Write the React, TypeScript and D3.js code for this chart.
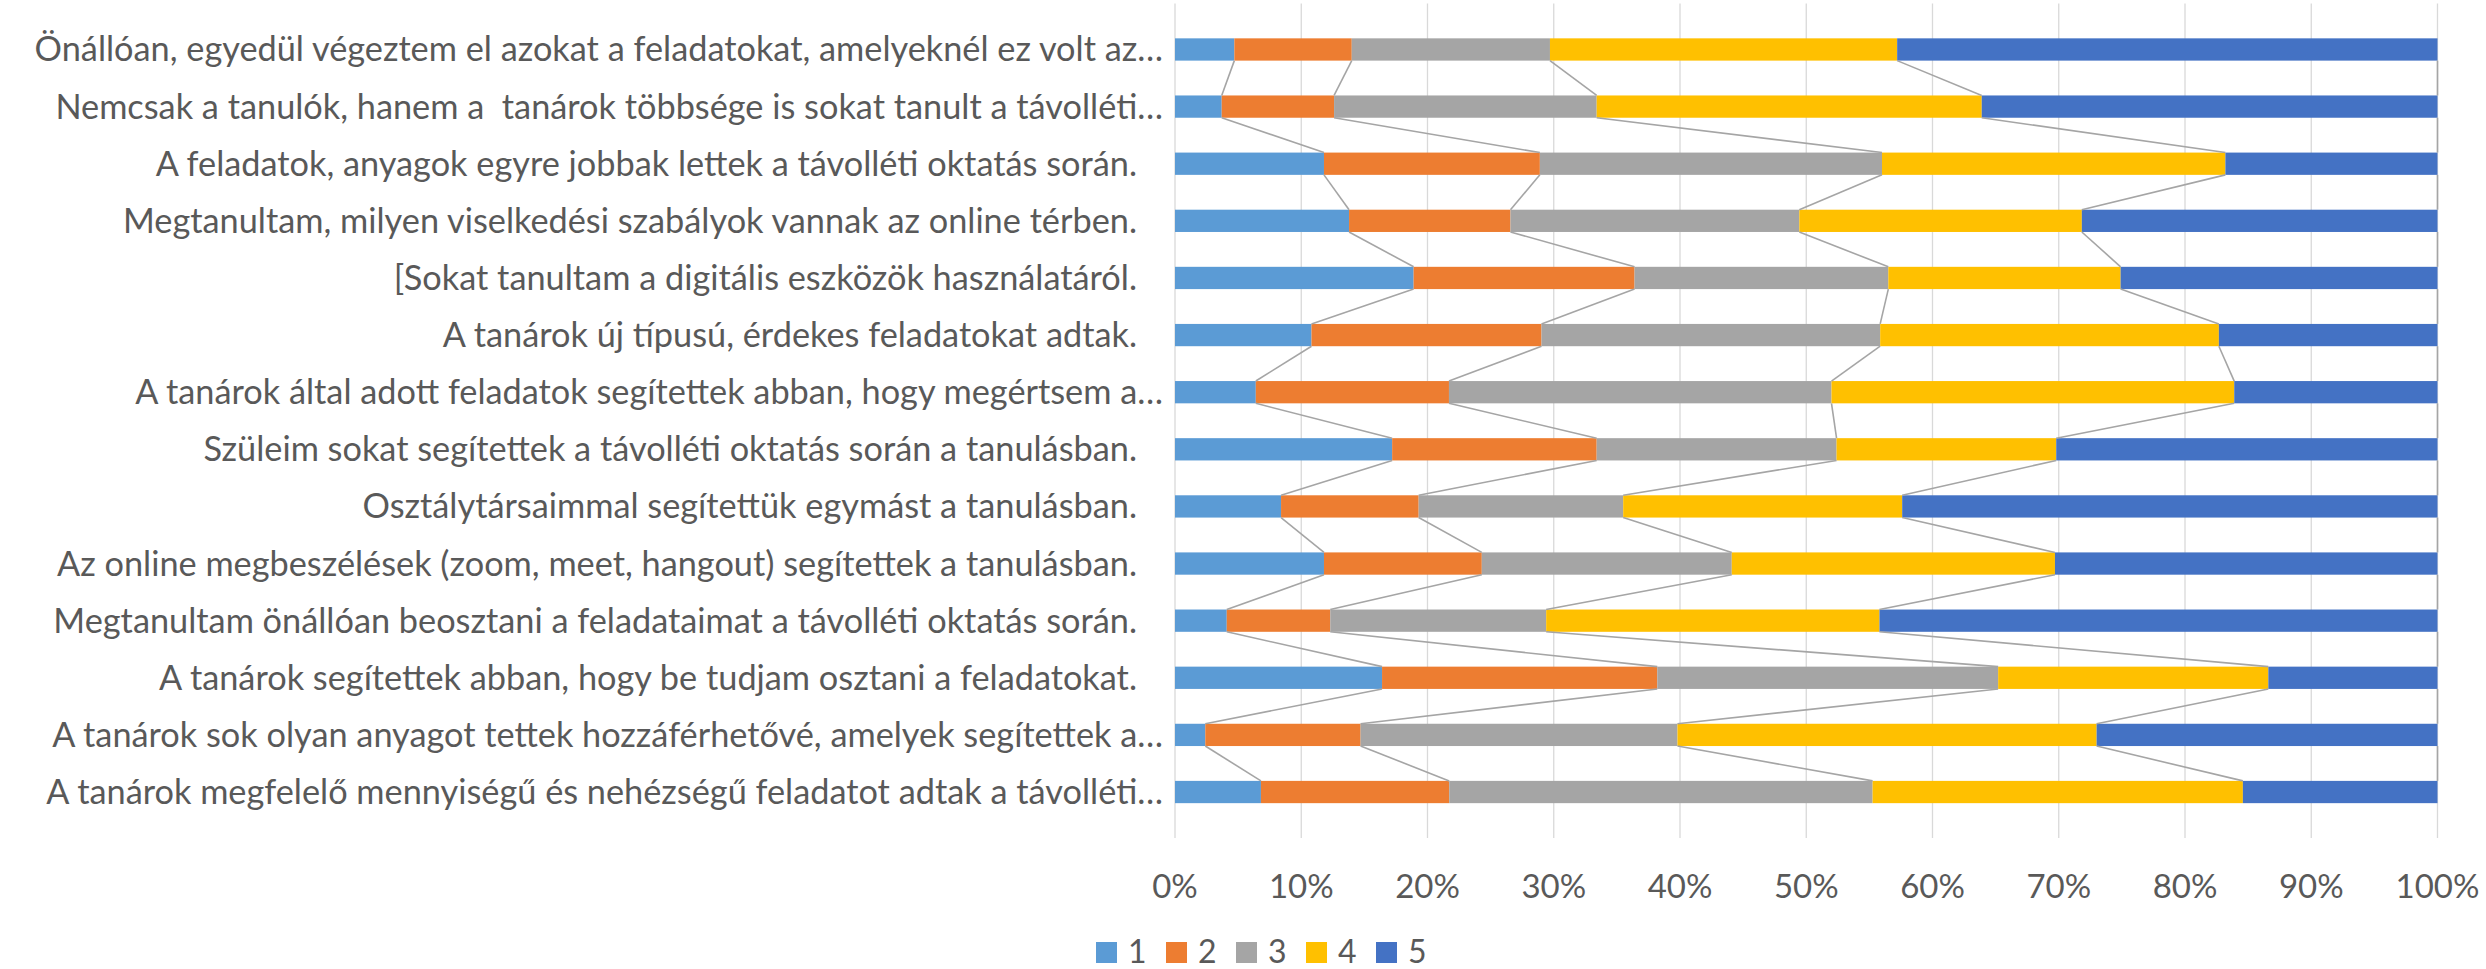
import React, { useEffect, useRef } from 'react';
import * as d3 from 'd3';

const categories = [
  'Önállóan, egyedül végeztem el azokat a feladatokat, amelyeknél ez volt az…',
  'Nemcsak a tanulók, hanem a  tanárok többsége is sokat tanult a távolléti…',
  'A feladatok, anyagok egyre jobbak lettek a távolléti oktatás során.',
  'Megtanultam, milyen viselkedési szabályok vannak az online térben.',
  '[Sokat tanultam a digitális eszközök használatáról.',
  'A tanárok új típusú, érdekes feladatokat adtak.',
  'A tanárok által adott feladatok segítettek abban, hogy megértsem a…',
  'Szüleim sokat segítettek a távolléti oktatás során a tanulásban.',
  'Osztálytársaimmal segítettük egymást a tanulásban.',
  'Az online megbeszélések (zoom, meet, hangout) segítettek a tanulásban.',
  'Megtanultam önállóan beosztani a feladataimat a távolléti oktatás során.',
  'A tanárok segítettek abban, hogy be tudjam osztani a feladatokat.',
  'A tanárok sok olyan anyagot tettek hozzáférhetővé, amelyek segítettek a…',
  'A tanárok megfelelő mennyiségű és nehézségű feladatot adtak a távolléti…',
];

const seriesNames = ['1', '2', '3', '4', '5'];
const s1 = [4.7, 3.7, 11.8, 13.8, 18.9, 10.8, 6.4, 17.2, 8.4, 11.8, 4.1, 16.4, 2.4, 6.8];
const s2 = [9.3, 8.9, 17.1, 12.8, 17.5, 18.2, 15.3, 16.2, 10.9, 12.5, 8.2, 21.8, 12.3, 14.9];
const s3 = [15.7, 20.8, 27.1, 22.9, 20.1, 26.8, 30.3, 19.0, 16.2, 19.8, 17.1, 27.0, 25.1, 33.5];
const s4 = [27.5, 30.5, 27.2, 22.4, 18.4, 26.8, 31.9, 17.4, 22.1, 25.6, 26.4, 21.4, 33.2, 29.3];
const s5 = [42.8, 36.1, 16.8, 28.2, 25.1, 17.3, 16.1, 30.2, 42.4, 30.3, 44.2, 13.4, 27.0, 15.4];
const colors = ['#5B9BD5', '#ED7D31', '#A5A5A5', '#FFC000', '#4472C4'];
const ticks = [0, 0.1, 0.2, 0.3, 0.4, 0.5, 0.6, 0.7, 0.8, 0.9, 1];

const W = 2486;
const H = 969;
const FONT = 'Lato, "Open Sans", sans-serif';

export default function App() {
  const ref = useRef<SVGSVGElement>(null);

  useEffect(() => {
    const svg = d3.select(ref.current);
    svg.selectAll('*').remove();

    const left = 1175, right = 2437.5, top = 3.5, bottom = 838;
    const x = d3.scaleLinear().domain([0, 1]).range([left, right]);
    const y = d3.scaleBand().domain(categories).range([top, bottom]).padding(0.61);

    const rows = categories.map((c, i) => ({
      cat: c, '1': s1[i], '2': s2[i], '3': s3[i], '4': s4[i], '5': s5[i],
    }));
    const stacked = d3.stack<any>().keys(seriesNames).offset(d3.stackOffsetExpand)(rows);

    // gridlines
    svg.append('g')
      .selectAll('line')
      .data(ticks)
      .enter()
      .append('line')
      .attr('x1', d => x(d))
      .attr('x2', d => x(d))
      .attr('y1', top)
      .attr('y2', bottom)
      .attr('stroke', '#D9D9D9')
      .attr('stroke-width', 1.3);

    // bars
    svg.append('g')
      .selectAll('g')
      .data(stacked)
      .enter()
      .append('g')
      .attr('fill', (d, i) => colors[i])
      .selectAll('rect')
      .data(d => d)
      .enter()
      .append('rect')
      .attr('x', d => x(d[0]))
      .attr('y', d => y(d.data.cat) as number)
      .attr('width', d => x(d[1]) - x(d[0]))
      .attr('height', y.bandwidth());

    // series lines
    const links: [number, number, number][] = [];
    stacked.forEach(layer => {
      for (let i = 0; i < categories.length - 1; i++) {
        links.push([i, layer[i][1], layer[i + 1][1]]);
      }
    });
    svg.append('g')
      .selectAll('line')
      .data(links)
      .enter()
      .append('line')
      .attr('x1', d => x(d[1]))
      .attr('x2', d => x(d[2]))
      .attr('y1', d => (y(categories[d[0]]) as number) + y.bandwidth())
      .attr('y2', d => y(categories[d[0] + 1]) as number)
      .attr('stroke', '#A5A5A5')
      .attr('stroke-width', 1.6);

    // category labels
    svg.append('g')
      .selectAll('text')
      .data(categories)
      .enter()
      .append('text')
      .attr('x', d => (d.endsWith('…') ? left - 12 : left - 38))
      .attr('y', d => (y(d) as number) + y.bandwidth() / 2)
      .attr('dy', '0.35em')
      .attr('text-anchor', 'end')
      .attr('font-family', FONT)
      .attr('font-size', 34.3)
      .attr('fill', '#595959')
      .style('white-space', 'pre')
      .text(d => d);

    // tick labels
    svg.append('g')
      .selectAll('text')
      .data(ticks)
      .enter()
      .append('text')
      .attr('x', d => x(d))
      .attr('y', 898)
      .attr('text-anchor', 'middle')
      .attr('font-family', FONT)
      .attr('font-size', 33)
      .attr('fill', '#595959')
      .text(d => d3.format('.0%')(d));

    // legend
    const leg = svg.append('g')
      .selectAll('g')
      .data(seriesNames)
      .enter()
      .append('g')
      .attr('transform', (d, i) => `translate(${1096 + i * 70},0)`);
    leg.append('rect')
      .attr('x', 0)
      .attr('y', 942)
      .attr('width', 21)
      .attr('height', 21)
      .attr('fill', (d, i) => colors[i]);
    leg.append('text')
      .attr('x', 32)
      .attr('y', 963)
      .attr('font-family', FONT)
      .attr('font-size', 32)
      .attr('fill', '#595959')
      .text(d => d);
  }, []);

  return (
    <svg ref={ref} width={W} height={H}
      style={{ position: 'absolute', left: 0, top: 0, background: '#fff' }}>
    </svg>
  );
}
